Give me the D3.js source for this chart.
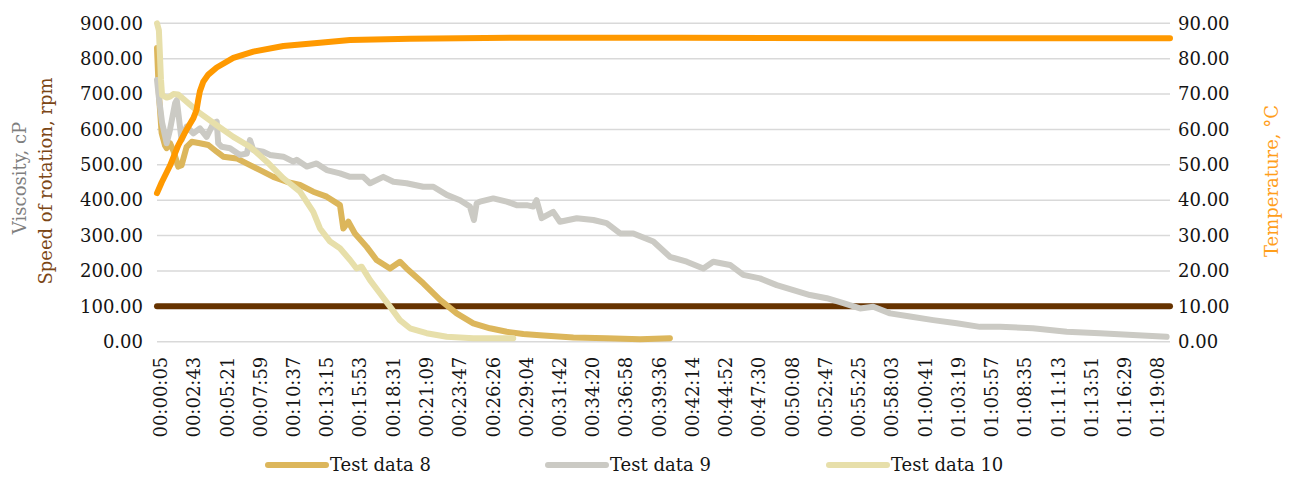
<!DOCTYPE html>
<html>
<head>
<meta charset="utf-8">
<script src="https://cdn.jsdelivr.net/npm/d3@7"></script>
<style>
  html, body { margin: 0; padding: 0; background: #fff; }
  svg { display: block; font-family: "DejaVu Serif", serif; }
</style>
</head>
<body>
<svg id="chart" width="1296" height="478"></svg>
<script>
// Elapsed time of each sample, seconds since start
const time8  = [5, 14, 27, 43, 51, 67, 83, 106, 122, 146, 170, 209, 249, 289, 320, 384, 447, 495, 558, 622, 685, 748, 812, 875, 891, 915, 946, 1002, 1049, 1113, 1160, 1192, 1271, 1351, 1430, 1509, 1588, 1668, 1747, 1826, 1985, 2143, 2302, 2444];
const visc8  = [830, 700, 590, 555, 547, 561, 540, 495, 499, 551, 565, 561, 556, 537, 523, 518, 499, 485, 466, 452, 443, 424, 410, 386, 320, 339, 306, 268, 231, 207, 226, 207, 165, 118, 80, 52, 38, 28, 22, 18, 12, 10, 7, 10];

const time9  = [5, 14, 29, 51, 67, 91, 99, 122, 146, 178, 209, 241, 273, 289, 296, 313, 352, 400, 432, 447, 463, 510, 542, 606, 653, 669, 717, 764, 812, 875, 923, 986, 1018, 1081, 1129, 1192, 1271, 1319, 1383, 1446, 1493, 1512, 1525, 1541, 1604, 1668, 1715, 1763, 1794, 1810, 1834, 1889, 1921, 2001, 2080, 2143, 2207, 2270, 2365, 2444, 2524, 2603, 2650, 2730, 2793, 2872, 2952, 3031, 3110, 3190, 3269, 3348, 3411, 3491, 3586, 3696, 3808, 3918, 4014, 4170, 4331, 4489, 4646, 4806];
const visc9  = [740, 690, 620, 561, 600, 674, 683, 570, 608, 589, 603, 579, 617, 622, 561, 551, 547, 528, 532, 570, 542, 537, 528, 523, 509, 514, 495, 504, 485, 476, 466, 466, 448, 466, 452, 448, 438, 438, 415, 400, 382, 344, 391, 396, 405, 396, 386, 386, 382, 400, 349, 367, 339, 349, 344, 335, 306, 306, 283, 240, 226, 207, 226, 217, 189, 179, 160, 146, 132, 123, 109, 94, 99, 80, 71, 61, 52, 42, 42, 38, 28, 24, 19, 14];

const time10 = [5, 14, 24, 29, 51, 67, 83, 106, 146, 209, 289, 368, 447, 527, 606, 685, 748, 780, 828, 875, 923, 954, 978, 1018, 1065, 1113, 1160, 1208, 1287, 1383, 1509, 1699];
const visc10 = [900, 880, 740, 697, 690, 693, 700, 699, 678, 646, 612, 579, 551, 509, 462, 424, 367, 320, 283, 264, 231, 207, 212, 174, 137, 99, 61, 38, 24, 14, 10, 10];

// Rotation speed (rpm) and temperature (°C)
const timeSpeed = [5, 4822];
const speed     = [100, 100];
const timeTemp  = [5, 27, 67, 106, 146, 178, 193, 201, 209, 225, 249, 289, 368, 463, 606, 780, 923, 1208, 1700, 2500, 3500, 4822];
const temp      = [42.0, 45.0, 49.8, 55.5, 60.0, 63.2, 65.5, 68.3, 70.8, 73.5, 75.5, 77.5, 80.2, 82.0, 83.6, 84.5, 85.3, 85.6, 85.9, 85.9, 85.8, 85.8];

// Axis tick labels
const timeTicks  = ["00:00:05","00:02:43","00:05:21","00:07:59","00:10:37","00:13:15","00:15:53","00:18:31","00:21:09","00:23:47","00:26:26","00:29:04","00:31:42","00:34:20","00:36:58","00:39:36","00:42:14","00:44:52","00:47:30","00:50:08","00:52:47","00:55:25","00:58:03","01:00:41","01:03:19","01:05:57","01:08:35","01:11:13","01:13:51","01:16:29","01:19:08"];
const leftTicks  = [0, 100, 200, 300, 400, 500, 600, 700, 800, 900];
const rightTicks = [0, 10, 20, 30, 40, 50, 60, 70, 80, 90];

const legendNames = ["Test data 8", "Test data 9", "Test data 10"];

const toSec = s => { const [h, m, x] = s.split(":").map(Number); return h * 3600 + m * 60 + x; };

const svg = d3.select("#chart");
const plot = { left: 157, right: 1170, top: 23.3, bottom: 341.7 };

const x = d3.scaleLinear().domain([5, 4822]).range([plot.left, plot.right]);
const yL = d3.scaleLinear().domain([0, 900]).range([plot.bottom, plot.top]);
const yR = d3.scaleLinear().domain([0, 90]).range([plot.bottom, plot.top]);

// Horizontal gridlines
svg.append("g").selectAll("line").data(leftTicks).join("line")
  .attr("x1", plot.left).attr("x2", plot.right)
  .attr("y1", d => yL(d)).attr("y2", d => yL(d))
  .attr("stroke", "#d9d9d9").attr("stroke-width", 1.5);

// Left axis
const gL = svg.append("g").attr("transform", `translate(${plot.left},0)`)
  .call(d3.axisLeft(yL).tickValues(leftTicks).tickFormat(d3.format(".2f")).tickSize(0).tickPadding(14));
gL.select(".domain").remove();
gL.selectAll("text").attr("font-size", 18).attr("fill", "#141414").attr("font-family", "DejaVu Serif");

// Right axis
const gR = svg.append("g").attr("transform", `translate(${plot.right},0)`)
  .call(d3.axisRight(yR).tickValues(rightTicks).tickFormat(d3.format(".2f")).tickSize(0).tickPadding(8));
gR.select(".domain").remove();
gR.selectAll("text").attr("font-size", 18).attr("fill", "#141414").attr("font-family", "DejaVu Serif");

// Bottom time axis
const gB = svg.append("g").attr("transform", `translate(0,${plot.bottom})`)
  .call(d3.axisBottom(x).tickValues(timeTicks.map(toSec)).tickFormat((d, i) => timeTicks[i]).tickSize(0));
gB.select(".domain").remove();
gB.selectAll("text")
  .attr("font-size", 18).attr("fill", "#141414").attr("font-family", "DejaVu Serif")
  .attr("transform", "rotate(-90)")
  .attr("x", -15).attr("y", 0).attr("dy", "0.53em")
  .style("text-anchor", "end");

// Series
const line = (xs, ys, yScale) => d3.line().x((d, i) => x(xs[i])).y(d => yScale(d))(ys);
const series = [
  { xs: timeSpeed, ys: speed,  y: yL, color: "#663300" },
  { xs: time8,     ys: visc8,  y: yL, color: "#dcb65b" },
  { xs: time9,     ys: visc9,  y: yL, color: "#cbcac4" },
  { xs: time10,    ys: visc10, y: yL, color: "#e7dfaa" },
  { xs: timeTemp,  ys: temp,   y: yR, color: "#ff9900" }
];
svg.append("g").selectAll("path").data(series).join("path")
  .attr("d", s => line(s.xs, s.ys, s.y))
  .attr("fill", "none")
  .attr("stroke", s => s.color)
  .attr("stroke-width", 6)
  .attr("stroke-linejoin", "round")
  .attr("stroke-linecap", "round");

// Axis titles
svg.append("text").text("Viscosity, cP")
  .attr("transform", "translate(20,178) rotate(-90)")
  .attr("text-anchor", "middle").attr("dy", "0.35em")
  .attr("font-size", 18).attr("fill", "#7f7f7f");
svg.append("text").text("Speed of rotation, rpm")
  .attr("transform", "translate(46,181) rotate(-90)")
  .attr("text-anchor", "middle").attr("dy", "0.35em")
  .attr("font-size", 18).attr("fill", "#7b4615");
svg.append("text").text("Temperature, °C")
  .attr("transform", "translate(1272,181) rotate(-90)")
  .attr("text-anchor", "middle").attr("dy", "0.35em")
  .attr("font-size", 18).attr("fill", "#ff9e1b");

// Legend
const legendColors = ["#dcb65b", "#cbcac4", "#e7dfaa"];
const legendX = [268, 548, 829];
const lg = svg.append("g").selectAll("g").data(legendNames).join("g")
  .attr("transform", (d, i) => `translate(${legendX[i]},465)`);
lg.append("line").attr("x1", 0).attr("x2", 58).attr("y1", 0).attr("y2", 0)
  .attr("stroke", (d, i) => legendColors[i]).attr("stroke-width", 6).attr("stroke-linecap", "round");
lg.append("text").text(d => d).attr("x", 62).attr("dy", "0.35em")
  .attr("font-size", 18).attr("fill", "#141414");
</script>
</body>
</html>
